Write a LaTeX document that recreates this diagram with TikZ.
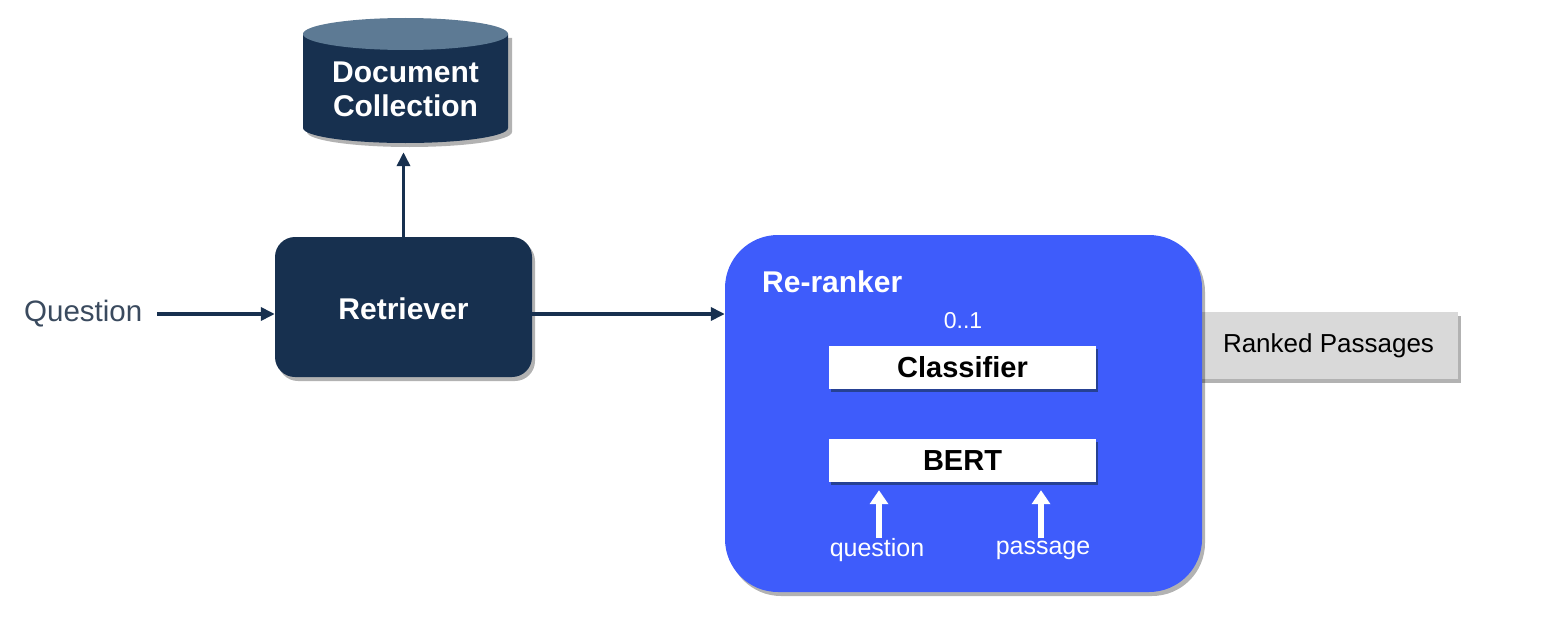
\documentclass[tikz,border=0pt]{standalone}
\usepackage{fontspec}
\setmainfont{Liberation Sans}
\usetikzlibrary{arrows.meta,shadows}
\definecolor{navy}{HTML}{17304F}
\definecolor{cyltop}{HTML}{5D7A94}
\definecolor{rrblue}{HTML}{3E5CFB}
\definecolor{qtext}{HTML}{3A4A5E}
\definecolor{rpgray}{HTML}{D9D9D9}
\tikzset{
  shadowed/.style={drop shadow={shadow xshift=3pt,shadow yshift=-4pt,opacity=0.3,fill=black}},
  darkarrow/.style={draw=navy,line width=3.6pt,-{Triangle[length=14pt,width=13pt]}},
  whitearrow/.style={draw=white,line width=5.5pt,-{Triangle[length=14pt,width=18pt]}},
  bigbold/.style={font=\fontsize{30}{34}\selectfont\bfseries,text=white,align=center},
  innerbox/.style={fill=white,minimum width=267pt,minimum height=43pt,inner sep=0pt,
     drop shadow={shadow xshift=2pt,shadow yshift=-3pt,opacity=0.6,fill=navy},
     font=\fontsize{29}{34}\selectfont\bfseries,text=black},
  smallwhite/.style={font=\fontsize{25}{29}\selectfont,text=white,inner sep=0pt},
}
\begin{document}
\begin{tikzpicture}[x=1pt,y=-1pt]
\useasboundingbox (0,0) rectangle (1568,626);
% cylinder
\fill[black,opacity=0.3] (307,38) -- (307,132) arc[start angle=180,end angle=0,x radius=102.5,y radius=15] -- (512,38) -- cycle;
\fill[navy] (303,34) -- (303,128) arc[start angle=180,end angle=0,x radius=102.5,y radius=15] -- (508,34) -- cycle;
\fill[cyltop] (405.5,34) ellipse[x radius=102.5,y radius=16];
\node[bigbold,minimum width=205pt,minimum height=130pt,inner sep=0pt,
      font=\fontsize{30}{35}\selectfont\bfseries] (doc) at (405.5,89) {Document\\[-1pt]Collection};
% retriever
\node[fill=navy,rounded corners=20pt,minimum width=257pt,minimum height=140pt,
      shadowed,bigbold] (ret) at (403.5,307) {};
\node[bigbold] (rettext) at (403.5,309) {Retriever};
% question
\node[font=\fontsize{29.5}{33}\selectfont,text=qtext,anchor=west,inner sep=0pt] (q) at (24,314) {Question};
% ranked passages
\node[fill=rpgray,minimum width=263pt,minimum height=67pt,inner sep=0pt,shadowed,
      font=\fontsize{26}{30}\selectfont,text=black] (rp) at (1326.5,345.5) {\hspace*{4pt}Ranked Passages};
% re-ranker
\node[fill=rrblue,rounded corners=53pt,minimum width=477pt,minimum height=357pt,shadowed] (rr) at (963.5,413.5) {};
\node[bigbold,anchor=west,inner sep=0pt] (rrlabel) at (762,282) {Re-ranker};
\node[font=\fontsize{23}{27}\selectfont,text=white,inner sep=0pt] (range) at (963,321) {0..1};
\node[innerbox] (cls) at (962.5,367) {Classifier};
\node[innerbox] (bert) at (962.5,460.5) {BERT};
\node[smallwhite] (ql) at (877,550) {question};
\node[smallwhite] (pl) at (1043,550) {passage};
\coordinate (qa) at (879,538);
\coordinate (pa) at (1041,538);
% connectors
\draw[whitearrow,shorten >=8pt] (qa) -- (qa |- bert.south);
\draw[whitearrow,shorten >=8pt] (pa) -- (pa |- bert.south);
\draw[darkarrow] (q.east) ++(15pt,0) coordinate (qs) -- (qs -| ret.west);
\draw[darkarrow] (ret.east |- q.east) -- (rr.west |- q.east);
\draw[darkarrow,shorten >=-2pt] (ret.north) -- (ret.north |- doc.south);
\end{tikzpicture}
\end{document}
